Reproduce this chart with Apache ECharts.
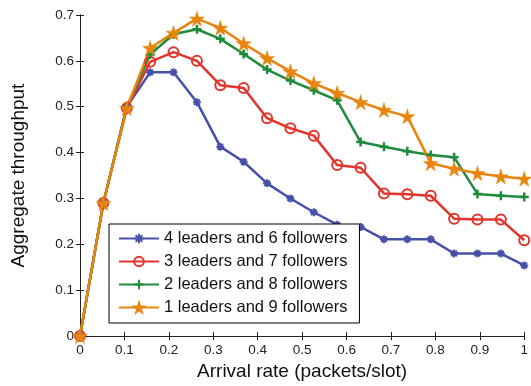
<!DOCTYPE html>
<html><head><meta charset="utf-8">
<script src="https://cdn.jsdelivr.net/npm/echarts@6/dist/echarts.min.js"></script>
<style>html,body{margin:0;padding:0;background:#fff}#c{width:531px;height:386px}</style>
</head><body><div id="c"></div>
<script>
const xValues = [0, 0.0526, 0.1053, 0.1579, 0.2105, 0.2632, 0.3158, 0.3684, 0.4211, 0.4737, 0.5263, 0.5789, 0.6316, 0.6842, 0.7368, 0.7895, 0.8421, 0.8947, 0.9474, 1];
const seriesNames = ['4 leaders and 6 followers', '3 leaders and 7 followers', '2 leaders and 8 followers', '1 leaders and 9 followers'];
const blue   = [0, 0.29, 0.5, 0.575, 0.575, 0.51, 0.413, 0.38, 0.333, 0.300, 0.270, 0.243, 0.238, 0.211, 0.211, 0.211, 0.180, 0.180, 0.180, 0.154];
const red    = [0, 0.29, 0.497, 0.598, 0.619, 0.600, 0.547, 0.541, 0.475, 0.453, 0.437, 0.373, 0.367, 0.311, 0.309, 0.306, 0.256, 0.254, 0.254, 0.209];
const green  = [0, 0.29, 0.5, 0.614, 0.658, 0.669, 0.648, 0.615, 0.581, 0.557, 0.536, 0.514, 0.423, 0.413, 0.403, 0.395, 0.390, 0.310, 0.306, 0.303];
const orange = [0, 0.29, 0.497, 0.628, 0.661, 0.692, 0.672, 0.638, 0.606, 0.577, 0.551, 0.530, 0.510, 0.493, 0.479, 0.377, 0.365, 0.355, 0.348, 0.343];
const xTickLabels = ['0', '0.1', '0.2', '0.3', '0.4', '0.5', '0.6', '0.7', '0.8', '0.9', '1'];
const yTickLabels = ['0', '0.1', '0.2', '0.3', '0.4', '0.5', '0.6', '0.7'];

const FONT = 'Liberation Sans';
const colors = ['#4650A8', '#E3342A', '#1E8C3C', '#E8850F'];
const STAR = 'path://M50,0 L61,35 L98,35 L68,57 L79,91 L50,70 L21,91 L32,57 L2,35 L39,35 Z';
const PLUS = 'path://M5,0L5,10M0,5L10,5';
const ASTER = 'path://M5,0L5,10M0,5L10,5M1.5,1.5L8.5,8.5M8.5,1.5L1.5,8.5';

function pairs(ys) { return xValues.map((x, i) => [x, ys[i]]); }
function tickFmt(labels, step) { return v => { const k = Math.round(v / step); return labels[k] !== undefined ? labels[k] : ''; }; }

const axisLine = { show: true, lineStyle: { color: '#222', width: 1 } };
const tickIn = { show: true, inside: true, length: 4, lineStyle: { color: '#222', width: 1 } };

const chart = echarts.init(document.getElementById('c'), null, { renderer: 'canvas' });
const mk = (name, data, color, symbol, size, itemStyle) => ({
  name, type: 'line', data: pairs(data), symbol, symbolSize: size,
  lineStyle: { color, width: 2.5 }, itemStyle, showSymbol: true, animation: false, clip: false, z: 2
});
chart.setOption({
  animation: false,
  grid: { left: 80, right: 2, top: 15, bottom: 44 },
  xAxis: [{
    type: 'value', min: 0, max: 1, interval: 0.1, position: 'bottom',
    axisLine, axisTick: tickIn, splitLine: { show: false },
    axisLabel: { color: '#222', fontFamily: FONT, fontSize: 13.5, margin: 7, formatter: tickFmt(xTickLabels, 0.1) },
    name: 'Arrival rate (packets/slot)', nameLocation: 'middle', nameGap: 23,
    nameTextStyle: { color: '#111', fontFamily: FONT, fontSize: 19 }
  }, {
    type: 'value', min: 0, max: 1, interval: 0.1, position: 'top',
    axisLine, axisTick: tickIn, splitLine: { show: false }, axisLabel: { show: false }
  }],
  yAxis: [{
    type: 'value', min: 0, max: 0.7, interval: 0.1, position: 'left',
    axisLine, axisTick: tickIn, splitLine: { show: false },
    axisLabel: { color: '#222', fontFamily: FONT, fontSize: 13.5, margin: 6, formatter: tickFmt(yTickLabels, 0.1) },
    name: 'Aggregate throughput', nameLocation: 'middle', nameGap: 52, nameRotate: 90,
    nameTextStyle: { color: '#111', fontFamily: FONT, fontSize: 19 }
  }, {
    type: 'value', min: 0, max: 0.7, interval: 0.1, position: 'right',
    axisLine, axisTick: tickIn, splitLine: { show: false }, axisLabel: { show: false }
  }],
  legend: {
    orient: 'vertical', left: 109, top: 224,
    data: seriesNames,
    backgroundColor: '#fff', borderColor: '#000', borderWidth: 1, borderRadius: 0,
    padding: [6, 12, 7, 9], itemGap: 6, itemWidth: 40, itemHeight: 12,
    textStyle: { color: '#111', fontFamily: FONT, fontSize: 16.5 }
  },
  series: [
    mk(seriesNames[0], blue, colors[0], ASTER, 8, { color: colors[0], borderColor: colors[0], borderWidth: 2 }),
    mk(seriesNames[1], red, colors[1], 'circle', 10, { color: 'rgba(255,255,255,0)', borderColor: colors[1], borderWidth: 2 }),
    mk(seriesNames[2], green, colors[2], PLUS, 9, { color: colors[2], borderColor: colors[2], borderWidth: 2.5 }),
    mk(seriesNames[3], orange, colors[3], STAR, 15, { color: colors[3], borderColor: colors[3], borderWidth: 0.5 })
  ]
});
</script></body></html>
